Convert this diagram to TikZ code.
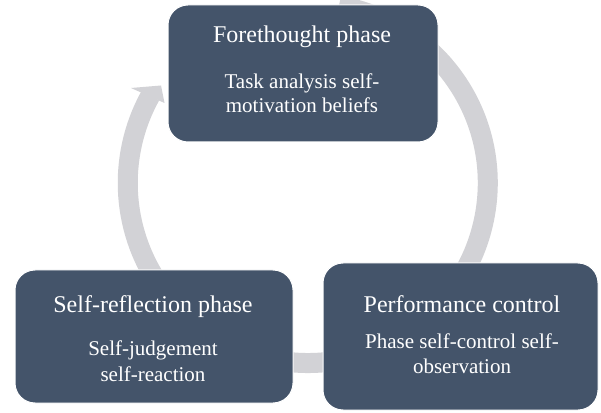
\documentclass[tikz,border=0pt]{standalone}
\usepackage{fontspec}
\setmainfont{Liberation Serif}
\definecolor{boxc}{RGB}{68,84,106}
\definecolor{ringc}{RGB}{210,210,214}
\begin{document}
\begin{tikzpicture}[x=1pt,y=1pt,
  phase/.style={fill=boxc, draw=white, line width=1pt, rounded corners=20pt, inner sep=0pt},
  ttl/.style={text=white, font=\fontsize{24}{28}\selectfont, anchor=base, inner sep=0pt},
  bdy/.style={text=white, font=\fontsize{21}{25}\selectfont, anchor=base, inner sep=0pt},
]
\useasboundingbox (0,0) rectangle (601,412);
\fill[white] (0,0) rectangle (601,412);
% ring (circular arrow)
\coordinate (c) at (307.75,229);
\draw[ringc, line width=20pt] (c) ++(80:180) arc[start angle=80, end angle=-209, radius=180];
\coordinate (wingout) at (131,324);
\coordinate (tip) at (161,326.5);
\coordinate (wingin) at (164.5,309);
\fill[ringc] (wingout) -- (tip) -- (wingin) -- cycle;
% boxes
\node[phase, minimum width=270pt, minimum height=137pt] (top) at (303,338.5) {};
\node[phase, minimum width=278pt, minimum height=133pt] (left) at (154,75.5) {};
\node[phase, minimum width=275pt, minimum height=147pt] (right) at (460.5,75.5) {};
% texts
\node[ttl] (t1) at (302,369) {Forethought phase};
\node[bdy] (t1a) at (302,323) {Task analysis self-};
\node[bdy] (t1b) at (302,299) {motivation beliefs};
\node[ttl] (t2) at (153,100) {Self-reflection phase};
\node[bdy] (t2a) at (153,57) {Self-judgement};
\node[bdy] (t2b) at (153,31) {self-reaction};
\node[ttl] (t3) at (462,100) {Performance control};
\node[bdy] (t3a) at (462,64) {Phase self-control self-};
\node[bdy] (t3b) at (462,39) {observation};
\end{tikzpicture}
\end{document}
